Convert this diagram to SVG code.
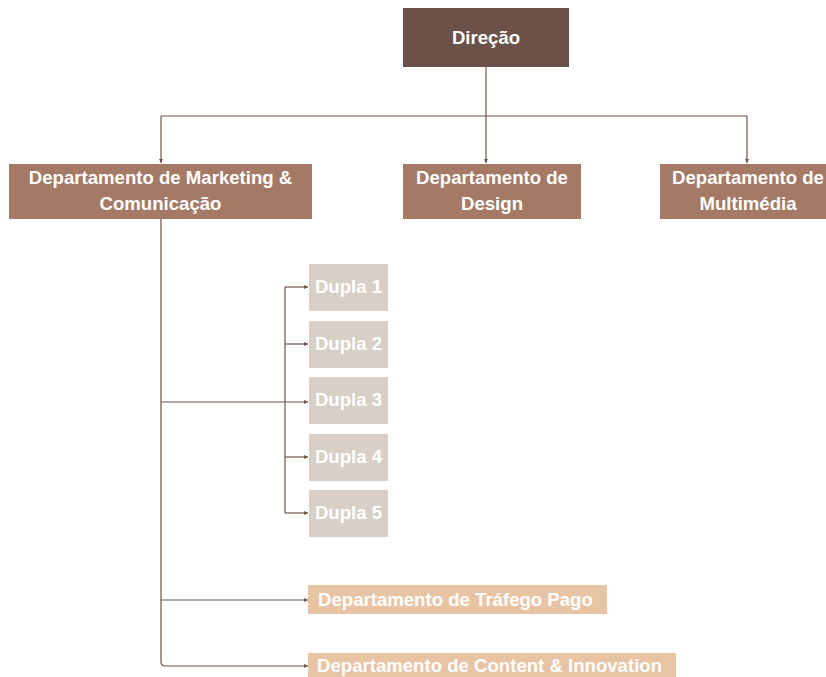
<svg xmlns="http://www.w3.org/2000/svg" width="826" height="677" viewBox="0 0 826 677">
<style>
.t{font-family:"Liberation Sans",Arial,sans-serif;font-weight:bold;font-size:18.6px;fill:#ffffff;text-anchor:middle}
.tl{font-family:"Liberation Sans",Arial,sans-serif;font-weight:bold;font-size:18.6px;fill:#ffffff}
.c{fill:none;stroke:#6e5449;stroke-width:1.2}
.top{fill:#6b5147}
.dep{fill:#a47a67}
.dup{fill:#d8cfc6}
.sub{fill:#e8c4a4}
</style>
<defs>
<marker id="ah" viewBox="0 0 6 6" refX="6" refY="3" markerWidth="4" markerHeight="4" orient="auto" markerUnits="userSpaceOnUse">
<path d="M0,0 L6,3 L0,6 z" fill="#6e5449"/>
</marker>
</defs>
<rect width="826" height="677" fill="#ffffff"/>
<g id="connectors">
<path class="c" d="M486,67 V116"/>
<path class="c" d="M161,116 H747"/>
<path class="c" d="M161,116 V163" marker-end="url(#ah)"/>
<path class="c" d="M486,116 V163" marker-end="url(#ah)"/>
<path class="c" d="M747,116 V163" marker-end="url(#ah)"/>
<path class="c" d="M161,219 V662 Q161,666 165,666 H308" marker-end="url(#ah)"/>
<path class="c" d="M161,402 H308" marker-end="url(#ah)"/>
<path class="c" d="M161,600 H308" marker-end="url(#ah)"/>
<path class="c" d="M285,287 V513"/>
<path class="c" d="M285,287 H308" marker-end="url(#ah)"/>
<path class="c" d="M285,344 H308" marker-end="url(#ah)"/>
<path class="c" d="M285,457 H308" marker-end="url(#ah)"/>
<path class="c" d="M285,513 H308" marker-end="url(#ah)"/>
</g>
<g id="direcao">
<rect class="top" x="403" y="8" width="166" height="59"/>
<text class="t" x="486" y="44">Direção</text>
</g>
<g id="marketing">
<rect class="dep" x="9" y="164" width="303" height="55"/>
<text class="t" x="160.5" y="184">Departamento de Marketing &amp;</text>
<text class="t" x="160.5" y="210">Comunicação</text>
</g>
<g id="design">
<rect class="dep" x="403" y="164" width="178" height="55"/>
<text class="t" x="492" y="184">Departamento de</text>
<text class="t" x="492" y="210">Design</text>
</g>
<g id="multimedia">
<rect class="dep" x="660" y="164" width="166" height="55"/>
<text class="t" x="748" y="184">Departamento de</text>
<text class="t" x="748" y="210">Multimédia</text>
</g>
<g id="dupla1">
<rect class="dup" x="309" y="264" width="79" height="47"/>
<text class="t" x="348.5" y="293">Dupla 1</text>
</g>
<g id="dupla2">
<rect class="dup" x="309" y="321" width="79" height="47"/>
<text class="t" x="348.5" y="350">Dupla 2</text>
</g>
<g id="dupla3">
<rect class="dup" x="309" y="377" width="79" height="47"/>
<text class="t" x="348.5" y="406">Dupla 3</text>
</g>
<g id="dupla4">
<rect class="dup" x="309" y="434" width="79" height="47"/>
<text class="t" x="348.5" y="463">Dupla 4</text>
</g>
<g id="dupla5">
<rect class="dup" x="309" y="490" width="79" height="47"/>
<text class="t" x="348.5" y="519">Dupla 5</text>
</g>
<g id="trafego">
<rect class="sub" x="308" y="585" width="299" height="29"/>
<text class="tl" x="318" y="606">Departamento de Tráfego Pago</text>
</g>
<g id="content">
<rect class="sub" x="308" y="653" width="368" height="26"/>
<text class="tl" x="317" y="672">Departamento de Content &amp; Innovation</text>
</g>
</svg>
